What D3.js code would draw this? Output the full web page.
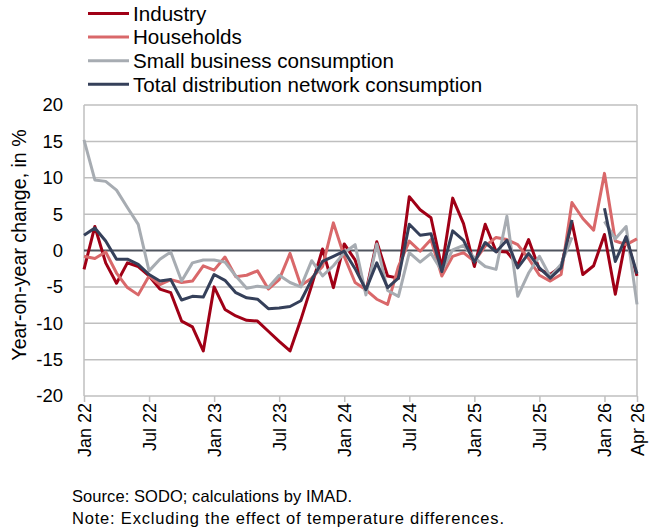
<!DOCTYPE html>
<html lang="en">
<head>
  <meta charset="UTF-8">
  <style>
    body {
      margin: 0;
      overflow: hidden;
      background: #fff;
    }

    svg {
      display: block;
      font-family: "Liberation Sans", Arial, sans-serif;
    }

    .grid line {
      stroke: #bfbfbf;
      stroke-width: 1.5;
    }

    .series {
      fill: none;
      stroke-width: 3;
      stroke-linejoin: round;
    }
  </style>
  <script src="https://d3js.org/d3.v7.min.js"></script>
</head>
<body>

<svg id="chart"></svg>

<script>
  // month labels, Jan 22 .. Apr 26
  const monthNames = ["Jan", "Feb", "Mar", "Apr", "May", "Jun", "Jul", "Aug", "Sep", "Oct", "Nov", "Dec"];
  const months = [];
  for (let y = 22; y <= 26; y++) {
    monthNames.forEach(m => months.push(m + " " + y));
  }
  months.length = 52;

  const tickLabels = ["Jan 22", "Jul 22", "Jan 23", "Jul 23", "Jan 24", "Jul 24", "Jan 25", "Jul 25", "Jan 26", "Apr 26"];
  const yTicks = [-20, -15, -10, -5, 0, 5, 10, 15, 20];

  const industry = [
    -2.6, 3.3, -1.7, -4.5, -1.7, -2.2, -3.5, -5.3, -5.8, -9.7, -10.5, -13.8,
    -5.0, -8.1, -9.0, -9.6, -9.7, -11.1, -12.5, -13.8, -9.5, -4.8, 0.2, -5.1,
    0.9, -1.3, -5.7, 1.2, -3.5, -3.8, 7.4, 5.6, 4.5, -2.4, 7.2, 3.7,
    -2.2, 3.6, -0.1, -0.2, -2.0, 1.5, -2.6, -3.3, -2.2, 3.9, -3.3, -2.1,
    2.2, -6.0, 1.8, -3.5
  ];

  const households = [
    -0.8, -1.1, -0.2, -3.1, -5.1, -6.1, -3.5, -4.7, -4.0, -4.4, -4.2, -2.1,
    -2.7, -0.9, -3.6, -3.4, -2.8, -5.3, -4.0, -0.4, -4.8, -3.8, -2.2, 3.8,
    -0.8, -4.4, -5.4, -6.7, -7.4, -2.2, 1.3, -0.1, 1.5, -3.5, -0.8, -0.3,
    -1.5, 0.6, 1.8, 1.5, 0.8, -1.1, -3.4, -4.2, -3.3, 6.6, 4.4, 2.8,
    10.6, 1.3, 0.8, 1.6
  ];

  const smallBusiness = [
    15.2, 9.7, 9.5, 8.3, 5.9, 3.6, -2.8, -1.2, -0.2, -4.2, -1.7, -1.3,
    -1.3, -1.6, -3.5, -5.2, -4.9, -5.1, -3.4, -4.4, -5.0, -1.4, -3.5, -2.1,
    -0.3, 0.8, -6.1, 0.9, -5.5, -6.3, -0.3, -1.6, -0.4, -2.8, 0.1, 0.7,
    -1.0, -2.2, -2.6, 4.7, -6.3, -3.1, -0.8, -3.6, -1.9, 1.8, null, null,
    4.0, 1.6, 3.3, -7.4
  ];

  const total = [
    2.1, 3.1, 1.3, -1.2, -1.2, -1.9, -3.3, -4.2, -4.0, -6.8, -6.3, -6.4,
    -3.3, -4.1, -5.8, -6.5, -6.7, -8.0, -7.9, -7.7, -6.9, -4.0, -1.5, -0.8,
    -0.1, -2.5, -5.4, -1.7, -5.1, -3.8, 3.6, 2.1, 2.3, -2.9, 2.7, 1.4,
    -1.6, 1.1, -0.2, 1.4, -2.4, -0.4, -2.4, -3.8, -2.4, 4.2, null, null,
    5.8, -1.5, 1.9, -3.2
  ];

  const seriesNames = ["Industry", "Households", "Small business consumption", "Total distribution network consumption"];
  const seriesColors = ["#a00016", "#d9686a", "#a7acb2", "#35405a"];
  const seriesValues = [industry, households, smallBusiness, total];

  const width = 651, height = 532;
  const margin = { top: 105, right: 14, bottom: 136, left: 84 };

  const svg = d3.select("#chart")
    .attr("width", width)
    .attr("height", height);

  const x = d3.scaleLinear()
    .domain([0, months.length - 1])
    .range([margin.left, width - margin.right]);

  const y = d3.scaleLinear()
    .domain([-20, 20])
    .range([height - margin.bottom, margin.top]);

  // horizontal gridlines
  svg.append("g")
    .attr("class", "grid")
    .selectAll("line")
    .data(yTicks.filter(d => d !== 0))
    .join("line")
    .attr("x1", x.range()[0])
    .attr("x2", x.range()[1])
    .attr("y1", d => y(d))
    .attr("y2", d => y(d));

  // left axis line and right frame
  svg.append("g")
    .attr("class", "grid")
    .selectAll("line")
    .data(x.range())
    .join("line")
    .attr("x1", d => d)
    .attr("x2", d => d)
    .attr("y1", y(20))
    .attr("y2", y(-20));

  // y axis labels (plain hyphen like the original)
  const yAxis = svg.append("g")
    .attr("transform", `translate(${margin.left},0)`)
    .call(d3.axisLeft(y).tickValues(yTicks).tickSize(0).tickPadding(21)
      .tickFormat(d => String(d)));
  yAxis.select(".domain").remove();
  yAxis.selectAll("text")
    .attr("font-family", "Liberation Sans, Arial, sans-serif")
    .attr("font-size", 18.5)
    .attr("fill", "#000");

  // x axis with rotated labels
  const xTickIdx = tickLabels.map(l => months.indexOf(l));
  const xAxis = svg.append("g")
    .attr("transform", `translate(0,${y(-20)})`)
    .call(d3.axisBottom(x).tickValues(xTickIdx).tickFormat(i => months[i]).tickSize(6).tickSizeOuter(0));
  xAxis.select(".domain").remove();
  xAxis.selectAll(".tick line")
    .attr("stroke", "#bfbfbf")
    .attr("stroke-width", 1.5);
  xAxis.selectAll("text")
    .attr("font-family", "Liberation Sans, Arial, sans-serif")
    .attr("font-size", 18)
    .attr("fill", "#000")
    .attr("text-anchor", "end")
    .attr("dy", null)
    .attr("transform", "translate(0,7) rotate(-90)")
    .attr("x", 0)
    .attr("y", 0)
    .attr("dominant-baseline", "central");

  // zero line
  svg.append("line")
    .attr("x1", x.range()[0])
    .attr("x2", x.range()[1])
    .attr("y1", y(0))
    .attr("y2", y(0))
    .attr("stroke", "#50555f")
    .attr("stroke-width", 2);

  // series
  const line = d3.line()
    .defined(d => d !== null)
    .x((d, i) => x(i))
    .y(d => y(d));

  seriesValues.forEach((values, k) => {
    svg.append("path")
      .datum(values)
      .attr("class", "series")
      .attr("stroke", seriesColors[k])
      .attr("d", line);
  });

  // legend
  const legend = svg.append("g");
  seriesNames.forEach((name, k) => {
    const ly = 13.5 + k * 23.6;
    legend.append("line")
      .attr("x1", 88)
      .attr("x2", 129)
      .attr("y1", ly)
      .attr("y2", ly)
      .attr("stroke", seriesColors[k])
      .attr("stroke-width", 3);
    legend.append("text")
      .attr("x", 133)
      .attr("y", ly + 7.2)
      .attr("font-size", 20.6)
      .attr("fill", "#000")
      .text(name);
  });

  // y axis title
  svg.append("text")
    .attr("transform", `translate(26,245) rotate(-90)`)
    .attr("text-anchor", "middle")
    .attr("font-size", 19.6)
    .attr("fill", "#000")
    .text("Year-on-year change, in %");

  // notes
  svg.append("text")
    .attr("x", 72)
    .attr("y", 502)
    .attr("font-size", 16.5)
    .attr("fill", "#000")
    .attr("textLength", 280)
    .attr("lengthAdjust", "spacing")
    .text("Source: SODO; calculations by IMAD.");
  svg.append("text")
    .attr("x", 72)
    .attr("y", 524)
    .attr("font-size", 16.5)
    .attr("fill", "#000")
    .attr("textLength", 432)
    .attr("lengthAdjust", "spacing")
    .text("Note: Excluding the effect of temperature differences.");
</script>

</body>
</html>
